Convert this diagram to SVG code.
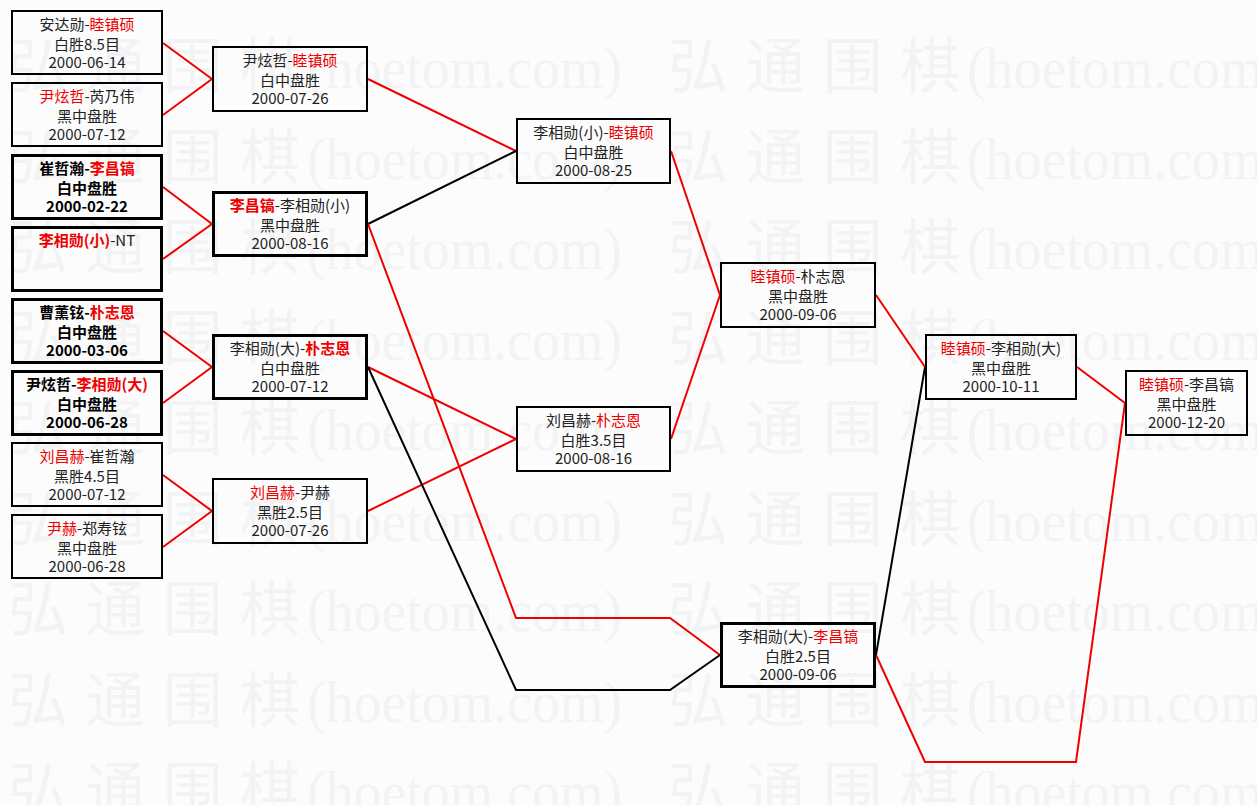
<svg xmlns="http://www.w3.org/2000/svg" xmlns:xlink="http://www.w3.org/1999/xlink" width="1257" height="805" viewBox="0 0 1257 805">
<style>
.wm{font-family:"Liberation Serif","Noto Sans CJK SC",serif;font-size:60px;fill:#f2f3f4}
.box{fill:none;stroke:#000;stroke-width:2}
.bb{stroke-width:3}
.t{font-family:"Noto Sans CJK SC","Liberation Sans",sans-serif;font-size:15px;text-anchor:middle;fill:#222}
.b{font-weight:bold;fill:#000}
.r{fill:#e00}
.lr{fill:none;stroke:#e00;stroke-width:2}
.lk{fill:none;stroke:#000;stroke-width:2}
</style>
<defs>
<g id="wm"><text class="wm" y="0"><tspan x="8" textLength="292">弘通围棋</tspan><tspan x="307" textLength="315" lengthAdjust="spacingAndGlyphs">(hoetom.com)</tspan></text></g>
</defs>
<rect x="0" y="0" width="1257" height="805" fill="#fcfcfc"/>
<g id="watermark">
<use xlink:href="#wm" x="0" y="88"/><use xlink:href="#wm" x="660" y="88"/>
<use xlink:href="#wm" x="0" y="178.5"/><use xlink:href="#wm" x="660" y="178.5"/>
<use xlink:href="#wm" x="0" y="269"/><use xlink:href="#wm" x="660" y="269"/>
<use xlink:href="#wm" x="0" y="359.5"/><use xlink:href="#wm" x="660" y="359.5"/>
<use xlink:href="#wm" x="0" y="450"/><use xlink:href="#wm" x="660" y="450"/>
<use xlink:href="#wm" x="0" y="540.5"/><use xlink:href="#wm" x="660" y="540.5"/>
<use xlink:href="#wm" x="0" y="631"/><use xlink:href="#wm" x="660" y="631"/>
<use xlink:href="#wm" x="0" y="721.5"/><use xlink:href="#wm" x="660" y="721.5"/>
<use xlink:href="#wm" x="0" y="812"/><use xlink:href="#wm" x="660" y="812"/>
</g>
<g id="connectors">
<polyline class="lr" points="163,43 212,79"/>
<polyline class="lr" points="163,115 212,79"/>
<polyline class="lr" points="163,187 212,224"/>
<polyline class="lr" points="163,259 212,224"/>
<polyline class="lr" points="163,331 212,367"/>
<polyline class="lr" points="163,403 212,367"/>
<polyline class="lr" points="163,475 212,511"/>
<polyline class="lr" points="163,547 212,511"/>
<polyline class="lr" points="368,79 516,151"/>
<polyline class="lk" points="368,224 516,151"/>
<polyline class="lr" points="368,224 516,618 670,618 720,655"/>
<polyline class="lr" points="368,367 516,439"/>
<polyline class="lr" points="368,511 516,439"/>
<polyline class="lk" points="368,367 516,690 670,690 720,655"/>
<polyline class="lr" points="671,151 720,295"/>
<polyline class="lr" points="671,439 720,295"/>
<polyline class="lr" points="876,295 925,367"/>
<polyline class="lk" points="876,655 925,367"/>
<polyline class="lr" points="1077,367 1125,403"/>
<polyline class="lr" points="876,655 925,762 1076,762 1125,403"/>
</g>
<g id="n1"><rect class="box" x="12" y="11" width="150" height="63"/>
<text class="t" x="87" y="30">安达勋-<tspan class="r">睦镇硕</tspan></text><text class="t" x="87" y="50">白胜8.5目</text><text class="t" x="87" y="67.5">2000-06-14</text></g>
<g id="n2"><rect class="box" x="12" y="83" width="150" height="63"/>
<text class="t" x="87" y="102"><tspan class="r">尹炫哲</tspan>-芮乃伟</text><text class="t" x="87" y="122">黑中盘胜</text><text class="t" x="87" y="139.5">2000-07-12</text></g>
<g id="n3"><rect class="box bb" x="12.5" y="155.5" width="149" height="63"/>
<text class="t b" x="87" y="174">崔哲瀚-<tspan class="r">李昌镐</tspan></text><text class="t b" x="87" y="194">白中盘胜</text><text class="t b" x="87" y="211.5">2000-02-22</text></g>
<g id="n4"><rect class="box bb" x="12.5" y="227.5" width="149" height="63"/>
<text class="t" x="87" y="246"><tspan class="r b">李相勋(小)</tspan>-NT</text></g>
<g id="n5"><rect class="box bb" x="12.5" y="299.5" width="149" height="63"/>
<text class="t b" x="87" y="318">曹薰铉-<tspan class="r">朴志恩</tspan></text><text class="t b" x="87" y="338">白中盘胜</text><text class="t b" x="87" y="355.5">2000-03-06</text></g>
<g id="n6"><rect class="box bb" x="12.5" y="371.5" width="149" height="63"/>
<text class="t b" x="87" y="390">尹炫哲-<tspan class="r">李相勋(大)</tspan></text><text class="t b" x="87" y="410">白中盘胜</text><text class="t b" x="87" y="427.5">2000-06-28</text></g>
<g id="n7"><rect class="box" x="12" y="443" width="150" height="63"/>
<text class="t" x="87" y="462"><tspan class="r">刘昌赫</tspan>-崔哲瀚</text><text class="t" x="87" y="482">黑胜4.5目</text><text class="t" x="87" y="499.5">2000-07-12</text></g>
<g id="n8"><rect class="box" x="12" y="515" width="150" height="63"/>
<text class="t" x="87" y="534"><tspan class="r">尹赫</tspan>-郑寿铉</text><text class="t" x="87" y="554">黑中盘胜</text><text class="t" x="87" y="571.5">2000-06-28</text></g>
<g id="m1"><rect class="box" x="213" y="47" width="154" height="64"/>
<text class="t" x="290" y="66">尹炫哲-<tspan class="r">睦镇硕</tspan></text><text class="t" x="290" y="86">白中盘胜</text><text class="t" x="290" y="103.5">2000-07-26</text></g>
<g id="m2"><rect class="box bb" x="213.5" y="192.5" width="153" height="63"/>
<text class="t" x="290" y="211"><tspan class="r b">李昌镐</tspan>-李相勋(小)</text><text class="t" x="290" y="231">黑中盘胜</text><text class="t" x="290" y="248.5">2000-08-16</text></g>
<g id="m3"><rect class="box bb" x="213.5" y="335.5" width="153" height="63"/>
<text class="t" x="290" y="354">李相勋(大)-<tspan class="r b">朴志恩</tspan></text><text class="t" x="290" y="374">白中盘胜</text><text class="t" x="290" y="391.5">2000-07-12</text></g>
<g id="m4"><rect class="box" x="213" y="479" width="154" height="64"/>
<text class="t" x="290" y="498"><tspan class="r">刘昌赫</tspan>-尹赫</text><text class="t" x="290" y="518">黑胜2.5目</text><text class="t" x="290" y="535.5">2000-07-26</text></g>
<g id="r1"><rect class="box" x="517" y="119" width="153" height="64"/>
<text class="t" x="593.5" y="138">李相勋(小)-<tspan class="r">睦镇硕</tspan></text><text class="t" x="593.5" y="158">白中盘胜</text><text class="t" x="593.5" y="175.5">2000-08-25</text></g>
<g id="r2"><rect class="box" x="517" y="407" width="153" height="64"/>
<text class="t" x="593.5" y="426">刘昌赫-<tspan class="r">朴志恩</tspan></text><text class="t" x="593.5" y="446">白胜3.5目</text><text class="t" x="593.5" y="463.5">2000-08-16</text></g>
<g id="s1"><rect class="box" x="721" y="263" width="154" height="64"/>
<text class="t" x="798" y="282"><tspan class="r">睦镇硕</tspan>-朴志恩</text><text class="t" x="798" y="302">黑中盘胜</text><text class="t" x="798" y="319.5">2000-09-06</text></g>
<g id="s2"><rect class="box bb" x="721.5" y="623.5" width="153" height="63"/>
<text class="t" x="798" y="642">李相勋(大)-<tspan class="r">李昌镐</tspan></text><text class="t" x="798" y="662">白胜2.5目</text><text class="t" x="798" y="679.5">2000-09-06</text></g>
<g id="t1"><rect class="box" x="926" y="335" width="150" height="64"/>
<text class="t" x="1001" y="354"><tspan class="r">睦镇硕</tspan>-李相勋(大)</text><text class="t" x="1001" y="374">黑中盘胜</text><text class="t" x="1001" y="391.5">2000-10-11</text></g>
<g id="t2"><rect class="box" x="1126" y="371" width="121" height="64"/>
<text class="t" x="1186.5" y="390"><tspan class="r">睦镇硕</tspan>-李昌镐</text><text class="t" x="1186.5" y="410">黑中盘胜</text><text class="t" x="1186.5" y="427.5">2000-12-20</text></g>
</svg>
